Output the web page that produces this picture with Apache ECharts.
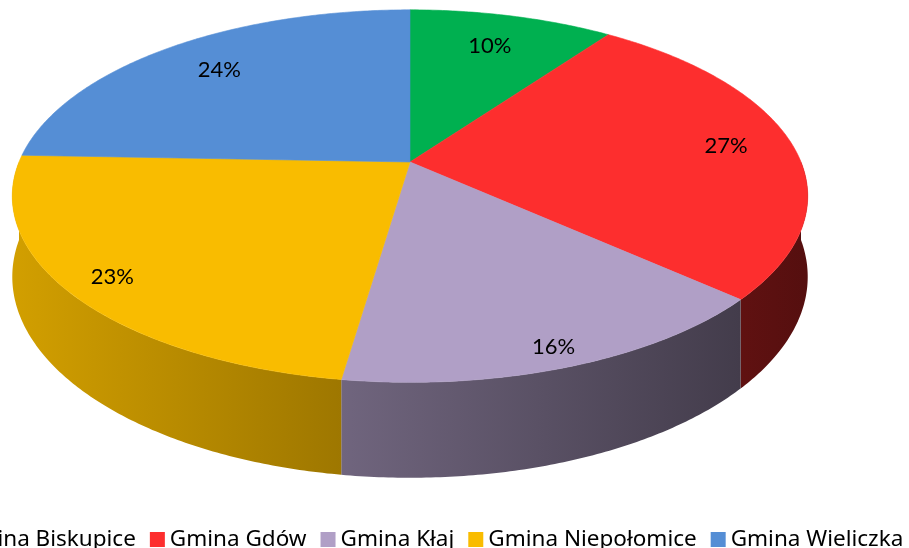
<!DOCTYPE html>
<html>
<head>
<meta charset="utf-8">
<script src="https://cdn.jsdelivr.net/npm/echarts@6/dist/echarts.min.js"></script>
<style>
  html, body { margin: 0; padding: 0; background: #fff; }
  #chart { width: 909px; height: 548px; }
</style>
</head>
<body>
<div id="chart"></div>
<script>
// dane (etykiety zaokrąglone)
const names = ['Gmina Biskupice', 'Gmina Gdów', 'Gmina Kłaj', 'Gmina Niepołomice', 'Gmina Wieliczka']
const shares = [9.9, 26.8, 15.6, 23.3, 24.4]
const colors = ['#00b050', '#fd2e2e', '#b09fc6', '#f9bc00', '#558ed5']

// model pochylonego dysku (perspektywa)
const CX = 410, CY = 162, RA = 391, RB = 180, K = 0.183, DEPTH = 78
const total = shares.reduce((a, b) => a + b, 0)

function project(r, ang, z) {
  const X = r * Math.sin(ang), Y = -r * Math.cos(ang)
  const w = 1 - K * Y
  return [CX + RA * X / w, CY + (RB * Y + DEPTH * z) / w]
}

function shade(hex, f) {
  const n = parseInt(hex.slice(1), 16)
  const c = [(n >> 16) & 255, (n >> 8) & 255, n & 255].map(v => Math.round(v * f))
  return 'rgb(' + c.join(',') + ')'
}

function arc(a0, a1, z) {
  const pts = []
  const steps = Math.max(4, Math.ceil((a1 - a0) / 0.01))
  for (let i = 0; i <= steps; i++) pts.push(project(1, a0 + (a1 - a0) * i / steps, z))
  return pts
}

function makeRender(i) {
  return function (params, api) {
    const start = api.value(0), val = api.value(1)
    const a0 = start / total * Math.PI * 2
    const a1 = (start + val) / total * Math.PI * 2
    const children = []

    // boczna ściana (tylko przód)
    const s0 = Math.max(a0, Math.PI / 2), s1 = Math.min(a1, Math.PI * 1.5)
    if (s1 > s0) {
      const pts = arc(s0, s1, 0).concat(arc(s0, s1, 1).reverse())
      const xs = pts.map(p => p[0])
      const xmin = Math.min(...xs), xmax = Math.max(...xs)
      const f = x => 0.59 - 0.25 * ((x - CX) / RA)
      children.push({
        type: 'polygon', z2: 1,
        shape: { points: pts },
        style: {
          fill: new echarts.graphic.LinearGradient(xmin, 0, xmax, 0, [
            { offset: 0, color: shade(colors[i], f(xmin)) },
            { offset: 1, color: shade(colors[i], f(xmax)) }
          ], true)
        }
      })
    }

    // wierzch
    const topPts = [project(0, 0, 0)].concat(arc(a0, a1, 0))
    children.push({
      type: 'polygon', z2: 5,
      shape: { points: topPts },
      style: { fill: colors[i], stroke: colors[i], lineWidth: 0.6 }
    })

    // etykieta
    const mid = (a0 + a1) / 2
    const lp = project(0.845 - 0.08 * Math.cos(mid), mid, 0)
    children.push({
      type: 'text', z2: 10,
      x: lp[0] - 4 * Math.sin(mid), y: lp[1],
      style: {
        text: Math.round(val / total * 100) + '%',
        fill: '#000', fontSize: 22, fontFamily: 'Lato',
        align: 'center', verticalAlign: 'middle'
      }
    })
    return { type: 'group', children }
  }
}

const chart = echarts.init(document.getElementById('chart'))
let acc = 0
const series = names.map((name, i) => {
  const start = acc
  acc += shares[i]
  return {
    type: 'custom',
    name,
    coordinateSystem: 'none',
    itemStyle: { color: colors[i] },
    data: [[start, shares[i]]],
    renderItem: makeRender(i),
    animation: false
  }
})

chart.setOption({
  animation: false,
  legend: {
    data: names,
    left: -65, top: 523, width: 1400,
    icon: 'rect', itemWidth: 15, itemHeight: 15, itemGap: 14,
    textStyle: { fontSize: 22.5, fontFamily: 'Noto Sans', color: '#000' }
  },
  series
})
</script>
</body>
</html>
